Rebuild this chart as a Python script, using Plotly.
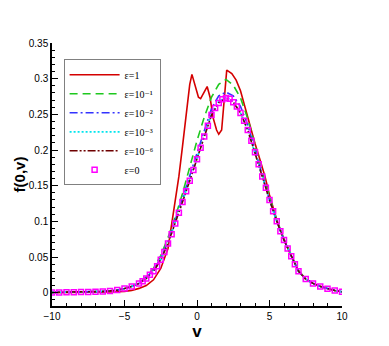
import plotly.graph_objects as go

# ---------------------------------- data ----------------

v_half = [-10, -9.5, -9, -8.5, -8, -7.5, -7, -6.5, -6, -5.5, -5, -4.5, -4, -3.5, -3, -2.5, -2, -1.5, -1, -0.5,
          0, 0.5, 1, 1.5, 2, 2.5, 3, 3.5, 4, 4.5, 5, 5.5, 6, 6.5, 7, 7.5, 8, 8.5, 9, 9.5, 10]

v_eps1 = [-10, -9, -8, -7, -6, -5, -4.5, -4, -3.5, -3, -2.5, -2, -1.5, -1.25, -1, -0.75, -0.5, -0.35, -0.15,
          0.1, 0.25, 0.55, 0.7, 0.9, 1.1, 1.35, 1.5, 1.7, 1.85, 2.05, 2.4, 2.7, 3, 3.3, 3.65, 4, 4.35, 4.7, 5,
          5.5, 6, 6.5, 7, 7.5, 8, 8.5, 9, 9.5, 10]
f_eps1 = [0.0001, 0.0002, 0.0003, 0.0005, 0.0009, 0.0018, 0.003, 0.006, 0.010, 0.018, 0.034, 0.062, 0.125,
          0.163, 0.205, 0.252, 0.292, 0.306, 0.293, 0.274, 0.272, 0.284, 0.289, 0.274, 0.246, 0.228, 0.222,
          0.228, 0.270, 0.312, 0.307, 0.298, 0.283, 0.260, 0.235, 0.209, 0.186, 0.162, 0.137, 0.102, 0.074,
          0.051, 0.031, 0.019, 0.013, 0.0087, 0.0055, 0.003, 0.0012]

f_eps_1 = [0.0003, 0.0004, 0.0005, 0.0006, 0.0008, 0.0011, 0.0014, 0.0018, 0.0025, 0.0036, 0.0058, 0.0088,
           0.014, 0.022, 0.034, 0.052, 0.077, 0.106, 0.139, 0.176, 0.213, 0.246, 0.274, 0.292, 0.299, 0.291,
           0.273, 0.244, 0.206, 0.170, 0.135, 0.102, 0.075, 0.052, 0.031, 0.019, 0.013, 0.0087, 0.0055, 0.003,
           0.0012]

f_eps_2 = [0.0003, 0.0004, 0.0005, 0.0006, 0.0008, 0.0011, 0.0014, 0.0018, 0.0025, 0.0036, 0.0058, 0.0088,
           0.013, 0.021, 0.032, 0.048, 0.072, 0.101, 0.132, 0.164, 0.195, 0.227, 0.258, 0.276, 0.281, 0.276,
           0.261, 0.235, 0.201, 0.164, 0.130, 0.100, 0.074, 0.051, 0.030, 0.019, 0.013, 0.0087, 0.0055, 0.003,
           0.0012]

f_eps_3 = [0.0003, 0.0004, 0.0005, 0.0006, 0.0008, 0.0011, 0.0014, 0.0018, 0.0025, 0.0036, 0.0058, 0.0088,
           0.013, 0.020, 0.030, 0.046, 0.069, 0.098, 0.128, 0.158, 0.188, 0.220, 0.251, 0.268, 0.274, 0.268,
           0.252, 0.228, 0.197, 0.163, 0.130, 0.100, 0.074, 0.051, 0.030, 0.019, 0.013, 0.0087, 0.0055, 0.003,
           0.0012]

f_eps_6 = [0.0003, 0.0004, 0.0005, 0.0006, 0.0008, 0.0011, 0.0014, 0.0018, 0.0025, 0.0036, 0.0058, 0.0088,
           0.013, 0.020, 0.030, 0.046, 0.069, 0.097, 0.127, 0.157, 0.187, 0.219, 0.249, 0.266, 0.273, 0.267,
           0.252, 0.228, 0.197, 0.163, 0.130, 0.100, 0.074, 0.051, 0.030, 0.019, 0.013, 0.0087, 0.0055, 0.003,
           0.0012]

v_eps0 = [-10, -9.5, -9, -8.5, -8, -7.5, -7, -6.5, -6, -5.5, -5, -4.5,
          -4, -3.75, -3.5, -3.25, -3, -2.75, -2.5, -2.25, -2, -1.75, -1.5, -1.25, -1, -0.75, -0.5, -0.25,
          0, 0.25, 0.5, 0.75, 1, 1.25, 1.5, 1.75, 2, 2.25, 2.5, 2.75, 3, 3.25, 3.5, 3.75,
          4, 4.25, 4.5, 4.75, 5, 5.25, 5.5, 5.75, 6, 6.25, 6.5, 6.75, 7,
          7.5, 8, 8.5, 9, 9.5, 10]
f_eps0 = [0.0003, 0.0004, 0.0005, 0.0006, 0.0008, 0.0011, 0.0014, 0.0018, 0.0025, 0.0036, 0.0058, 0.0088,
          0.013, 0.016, 0.020, 0.025, 0.030, 0.037, 0.046, 0.057, 0.069, 0.082, 0.097, 0.112, 0.127, 0.142,
          0.157, 0.172,
          0.187, 0.203, 0.219, 0.234, 0.249, 0.259, 0.266, 0.271, 0.273, 0.272, 0.267, 0.261, 0.252, 0.241,
          0.228, 0.213,
          0.197, 0.180, 0.163, 0.147, 0.130, 0.114, 0.100, 0.086, 0.074, 0.062, 0.051, 0.040, 0.030,
          0.019, 0.013, 0.0087, 0.0055, 0.003, 0.0012]

names = ['\u03b5=1', '\u03b5=10\u207b\u00b9', '\u03b5=10\u207b\u00b2', '\u03b5=10\u207b\u00b3',
         '\u03b5=10\u207b\u2076', '\u03b5=0']

# ---------------------------------- plot -------------------------------------

fig = go.Figure()

fig.add_trace(go.Scatter(x=v_eps1, y=f_eps1, mode='lines', name=names[0],
                         line=dict(color='#d40000', width=1.6)))
fig.add_trace(go.Scatter(x=v_half, y=f_eps_1, mode='lines', name=names[1],
                         line=dict(color='#1ec81e', width=1.6, dash='8px,5px')))
fig.add_trace(go.Scatter(x=v_half, y=f_eps_2, mode='lines', name=names[2],
                         line=dict(color='#3333ff', width=1.6, dash='8px,3px,2px,3px')))
fig.add_trace(go.Scatter(x=v_half, y=f_eps_3, mode='lines', name=names[3],
                         line=dict(color='#00e5ee', width=1.8, dash='2px,2px')))
fig.add_trace(go.Scatter(x=v_half, y=f_eps_6, mode='lines', name=names[4],
                         line=dict(color='#6e0000', width=1.6, dash='8px,2px,2px,2px,2px,2px')))
fig.add_trace(go.Scatter(x=v_eps0, y=f_eps0, mode='markers', name=names[5],
                         marker=dict(symbol='square-open', size=5, color='#ff00ff',
                                     line=dict(width=1.5, color='#ff00ff'))))

# the page has an 8px body margin, so margins are 8px smaller on the top/left
fig.update_layout(
    width=389, height=346,
    margin=dict(l=44, r=55, t=35, b=48),
    plot_bgcolor='white', paper_bgcolor='white',
    font=dict(family='Liberation Sans, Arial', size=10, color='black'),
    legend=dict(x=0.04, y=0.938, xanchor='left', yanchor='top',
                bgcolor='white', bordercolor='#808080', borderwidth=1,
                font=dict(family='Liberation Serif, DejaVu Serif', size=10),
                tracegroupgap=0, itemwidth=50),
)

fig.update_xaxes(range=[-10, 10], dtick=5, showline=True, linecolor='black', linewidth=1.5,
                 ticks='inside', ticklen=6, tickcolor='black', showgrid=False, zeroline=False,
                 automargin=False,
                 minor=dict(ticks='inside', ticklen=3, dtick=1, tickcolor='black', showgrid=False),
                 title=dict(text='<b>v</b>', font=dict(size=17), standoff=2))
fig.update_yaxes(range=[-0.0187, 0.35], dtick=0.05, showline=True, linecolor='black', linewidth=1.5,
                 ticks='inside', ticklen=6, tickcolor='black', showgrid=False, zeroline=False,
                 automargin=False,
                 minor=dict(ticks='inside', ticklen=3, dtick=0.01, tickcolor='black', showgrid=False),
                 title=dict(text='<b>f(0,v)</b>', font=dict(size=15), standoff=0))

fig.write_html("out.html")
